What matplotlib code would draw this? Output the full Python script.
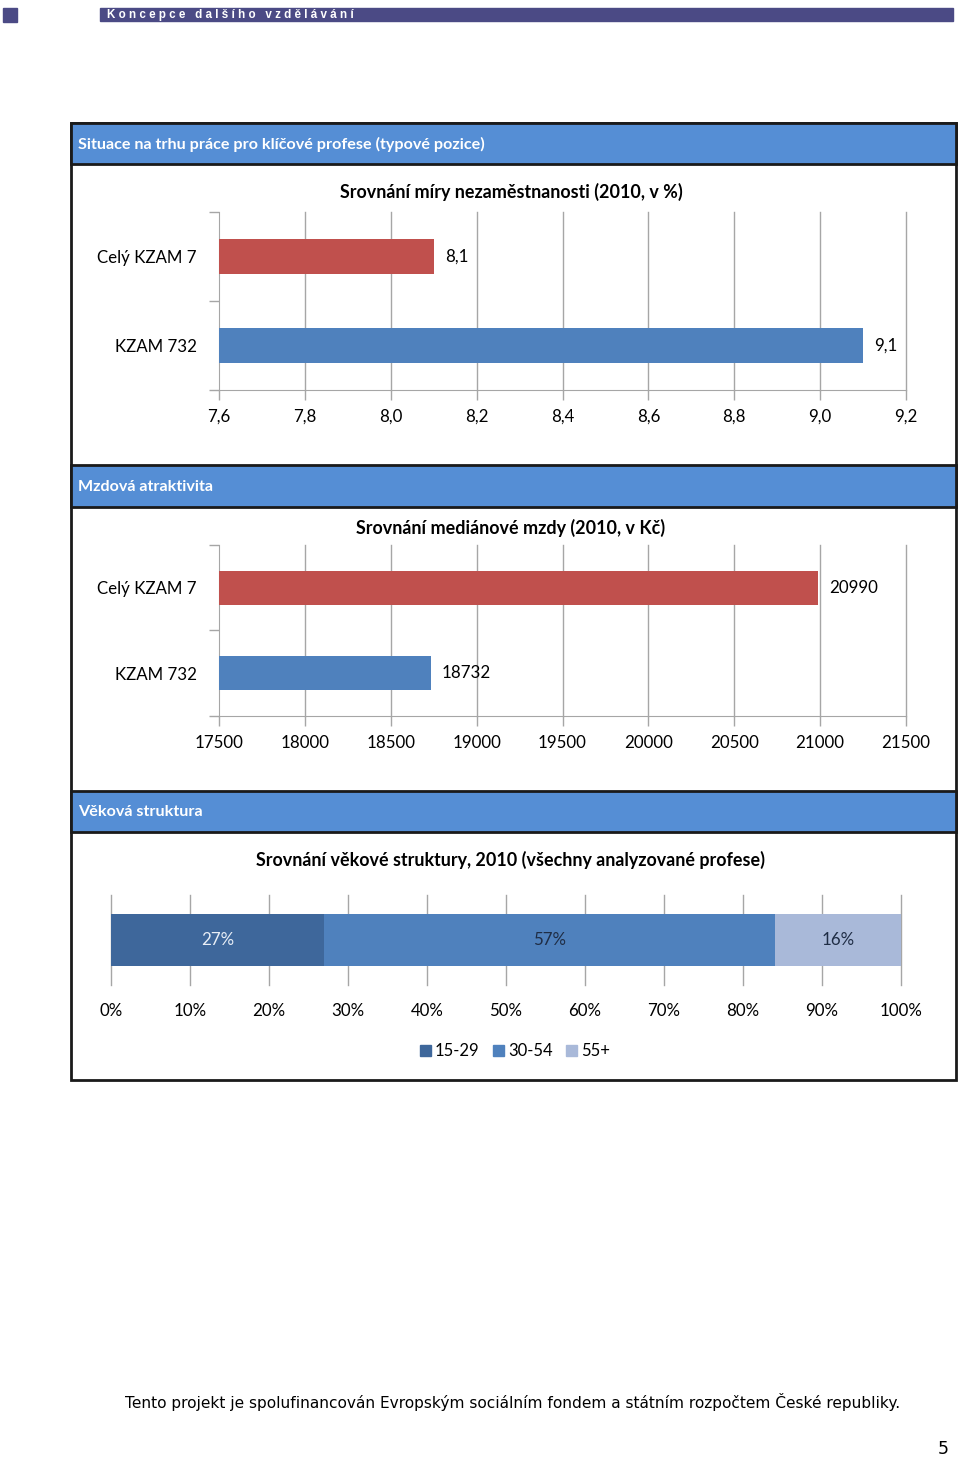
import matplotlib
matplotlib.use("Agg")
import matplotlib.pyplot as plt
from matplotlib.patches import Rectangle, Patch
from matplotlib.ticker import FuncFormatter, FixedLocator

# data
categories = ["Celý KZAM 7", "KZAM 732"]
unemployment = [8.1, 9.1]
unemp_ticks = [7.6, 7.8, 8.0, 8.2, 8.4, 8.6, 8.8, 9.0, 9.2]
wages = [20990, 18732]
wage_ticks = [17500, 18000, 18500, 19000, 19500, 20000, 20500, 21000, 21500]
age_groups = ["15-29", "30-54", "55+"]
age_shares = [27, 57, 16]
age_ticks = [0, 10, 20, 30, 40, 50, 60, 70, 80, 90, 100]

W, H = 960, 1459
RED = "#c0504d"
BLUE = "#4f81bd"
AGE_COLORS = ["#3e679b", "#4f81bd", "#a9b9d9"]
AGE_TEXT = ["#e8eef6", "#1f2d45", "#1f2d45"]
BAND = "#558ed5"
GRID = "#a6a6a6"
FONT = "Lato"
FS = 12.2

fig = plt.figure(figsize=(W / 100, H / 100), dpi=100)

# background canvas in pixel coordinates
bg = fig.add_axes([0, 0, 1, 1])
bg.set_xlim(0, W)
bg.set_ylim(H, 0)
bg.axis("off")

# page header
bg.add_patch(Rectangle((3, 8), 14, 14, color="#4b4a85"))
bg.add_patch(Rectangle((100, 8), 853, 13, color="#4b4a85"))
bg.text(107, 15, "K o n c e p c e   d a l š í h o   v z d ě l á v á n í", color="white",
        fontsize=8.4, fontweight="bold", family="Liberation Sans", va="center", ha="left")

# outer frame
bg.add_patch(Rectangle((71, 123), 885, 957, fill=False, ec="#1a1a1a", lw=2))

# section bands
bands = [(123, 164, "Situace na trhu práce pro klíčové profese (typové pozice)"),
         (465, 507, "Mzdová atraktivita"),
         (791, 832, "Věková struktura")]
for y0, y1, label in bands:
    bg.add_patch(Rectangle((71, y0), 885, y1 - y0, fc=BAND, ec="#1a1a1a", lw=2))
    bg.text(78, (y0 + y1) / 2 + 1, label, color="white", fontsize=11.6, fontweight="bold",
            family=FONT, va="center", ha="left")

# chart titles
titles = [(192, "Srovnání míry nezaměstnanosti (2010, v %)"),
          (528, "Srovnání mediánové mzdy (2010, v Kč)"),
          (860, "Srovnání věkové struktury, 2010 (všechny analyzované profese)")]
for y, t in titles:
    bg.text(511, y, t, fontsize=12.9, fontweight="bold", family=FONT, ha="center", va="center")

# footer
bg.text(513, 1402, "Tento projekt je spolufinancován Evropským sociálním fondem a státním rozpočtem České republiky.",
        fontsize=11.1, family="DejaVu Sans", ha="center", va="center")
bg.text(943, 1449, "5", fontsize=12.5, family="DejaVu Sans", ha="center", va="center")


def px_axes(x0, y0, x1, y1):
    return fig.add_axes([x0 / W, 1 - y1 / H, (x1 - x0) / W, (y1 - y0) / H])


def bar_chart(ax, values, ticks, fmt, label_fmt, bar_h):
    colors = [RED, BLUE]
    ax.barh(range(len(values)), [v - ticks[0] for v in values], left=ticks[0],
            height=bar_h, color=colors, zorder=3)
    ax.set_xlim(ticks[0], ticks[-1])
    ax.set_ylim(len(values) - 0.5, -0.5)
    ax.set_xticks(ticks)
    ax.xaxis.set_major_formatter(FuncFormatter(fmt))
    ax.set_yticks(range(len(values)))
    ax.set_yticklabels(categories)
    ax.yaxis.set_minor_locator(FixedLocator([-0.5, 0.5, 1.5]))
    ax.tick_params(axis="y", which="major", length=0, pad=16, labelsize=FS)
    ax.tick_params(axis="y", which="minor", length=7, color=GRID, width=1)
    ax.tick_params(axis="x", length=7, color=GRID, width=1, pad=6.5, labelsize=FS)
    for lab in ax.get_xticklabels() + ax.get_yticklabels():
        lab.set_family(FONT)
    for t in ticks[1:]:
        ax.axvline(t, color=GRID, lw=1, zorder=0, clip_on=False)
    for s in ["top", "right"]:
        ax.spines[s].set_visible(False)
    for s in ["left", "bottom"]:
        ax.spines[s].set_color(GRID)
    span = ticks[-1] - ticks[0]
    for i, v in enumerate(values):
        ax.text(v + span * 0.016, i, label_fmt(v), va="center", ha="left",
                fontsize=FS, family=FONT)


ax1 = px_axes(219, 212, 906, 390)
bar_chart(ax1, unemployment, unemp_ticks,
          lambda v, p: f"{v:.1f}".replace(".", ","),
          lambda v: f"{v:.1f}".replace(".", ","), 0.39)

ax2 = px_axes(219, 545, 906, 716)
bar_chart(ax2, wages, wage_ticks,
          lambda v, p: f"{v:.0f}",
          lambda v: f"{v:.0f}", 0.4)

# age structure stacked bar
ax3 = px_axes(111, 895, 901, 985)
left = 0
for share, color, tcol, name in zip(age_shares, AGE_COLORS, AGE_TEXT, age_groups):
    ax3.barh(0, share, left=left, height=0.57, color=color, zorder=3, label=name)
    ax3.text(left + share / 2, 0, f"{share}%", ha="center", va="center", color=tcol,
             fontsize=FS, family=FONT, zorder=4)
    left += share
ax3.set_xlim(0, 100)
ax3.set_ylim(-0.5, 0.5)
ax3.set_xticks(age_ticks)
ax3.set_xticklabels([f"{t}%" for t in age_ticks], family=FONT, fontsize=FS)
ax3.set_yticks([])
ax3.tick_params(axis="x", length=0, pad=13)
for t in age_ticks:
    ax3.axvline(t, color=GRID, lw=1, zorder=0, clip_on=False)
for s in ax3.spines.values():
    s.set_visible(False)

handles = [Patch(color=c) for c in AGE_COLORS]
leg = fig.legend(handles, age_groups, loc="center", bbox_to_anchor=(515 / W, 1 - 1051 / H),
                 ncol=3, frameon=False, handlelength=0.65, handleheight=0.65,
                 handletextpad=0.25, columnspacing=0.8, prop={"family": FONT, "size": 12})

fig.savefig("out.png", dpi=100)
